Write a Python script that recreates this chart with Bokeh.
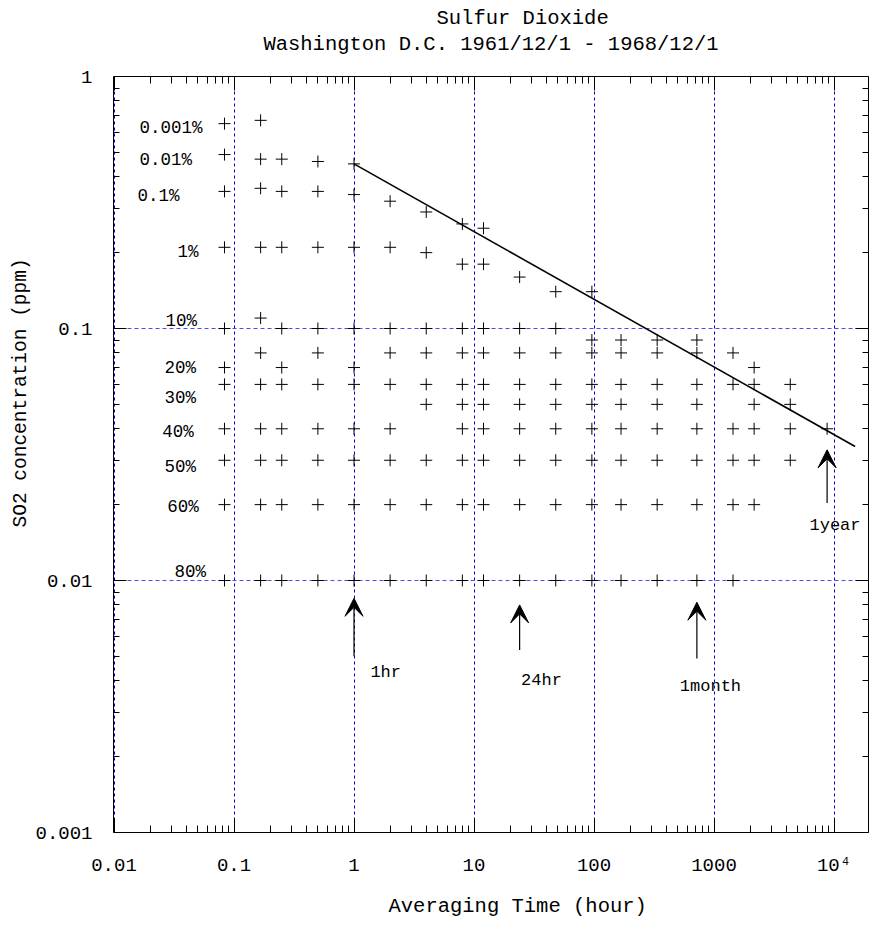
from bokeh.plotting import figure
from bokeh.models import LogAxis, FixedTicker, Title, Arrow, VeeHead, ColumnDataSource
from bokeh.core.properties import value
from bokeh.embed import file_html
from bokeh.resources import INLINE

# ---------------- data ----------------
avg_time_hr = [1/12, 1/6, 0.25, 0.5, 1, 2, 4, 8, 12, 24, 48, 96, 168, 336,
               720, 1440, 2160, 4320, 8760]

conc_5min = [0.65, 0.49, 0.35, 0.21, 0.10, 0.07, 0.06, 0.04, 0.03, 0.02, 0.01]
conc_10min = [0.67, 0.47, 0.36, 0.21, 0.11, 0.08, 0.06, 0.04, 0.03, 0.02, 0.01]
conc_15min = [0.47, 0.35, 0.21, 0.10, 0.07, 0.06, 0.04, 0.03, 0.02, 0.01]
conc_30min = [0.46, 0.35, 0.21, 0.10, 0.08, 0.06, 0.04, 0.03, 0.02, 0.01]
conc_1h = [0.45, 0.34, 0.21, 0.10, 0.07, 0.06, 0.04, 0.03, 0.02, 0.01]
conc_2h = [0.32, 0.21, 0.10, 0.08, 0.06, 0.04, 0.03, 0.02, 0.01]
conc_4h = [0.29, 0.20, 0.10, 0.08, 0.06, 0.05, 0.03, 0.02, 0.01]
conc_8h = [0.26, 0.18, 0.10, 0.08, 0.06, 0.05, 0.04, 0.03, 0.02, 0.01]
conc_12h = [0.25, 0.18, 0.10, 0.08, 0.06, 0.05, 0.04, 0.03, 0.02, 0.01]
conc_24h = [0.16, 0.10, 0.08, 0.06, 0.05, 0.04, 0.03, 0.02, 0.01]
conc_48h = [0.14, 0.10, 0.08, 0.06, 0.05, 0.04, 0.03, 0.02, 0.01]
conc_96h = [0.14, 0.09, 0.08, 0.06, 0.05, 0.04, 0.03, 0.02, 0.01]
conc_168h = [0.09, 0.08, 0.06, 0.05, 0.04, 0.03, 0.02, 0.01]
conc_336h = [0.09, 0.08, 0.06, 0.05, 0.04, 0.03, 0.02, 0.01]
conc_720h = [0.09, 0.08, 0.06, 0.05, 0.04, 0.03, 0.02, 0.01]
conc_1440h = [0.08, 0.06, 0.04, 0.03, 0.02, 0.01]
conc_2160h = [0.07, 0.06, 0.05, 0.04, 0.03, 0.02]
conc_4320h = [0.06, 0.05, 0.04, 0.03]
conc_8760h = [0.04]

conc_by_time = [conc_5min, conc_10min, conc_15min, conc_30min, conc_1h, conc_2h,
                conc_4h, conc_8h, conc_12h, conc_24h, conc_48h, conc_96h,
                conc_168h, conc_336h, conc_720h, conc_1440h, conc_2160h,
                conc_4320h, conc_8760h]

trend_x = [1, 15000]
trend_y = [0.45, 0.034]

pct_labels = ["0.001%", "0.01%", "0.1%", "1%", "10%", "20%", "30%", "40%",
              "50%", "60%", "80%"]
pct_label_x = [0.0163, 0.0163, 0.0157, 0.0338, 0.0269, 0.0263, 0.0263,
               0.0252, 0.0263, 0.0278, 0.0319]
pct_label_y = [0.627, 0.467, 0.336, 0.202, 0.1073, 0.0694, 0.0532, 0.0389,
               0.0283, 0.0195, 0.01076]

mark_time = [1, 24, 720, 8760]
mark_name = ["1hr", "24hr", "1month", "1year"]
arrow_tail = [0.0050, 0.0053, 0.0049, 0.0203]
arrow_tip = [0.0085, 0.0080, 0.0082, 0.0330]
mark_label_x = [1.37, 24.7, 519, 6250]
mark_label_y = [0.0043, 0.0040, 0.0038, 0.0166]

x_ticks = [0.01, 0.1, 1, 10, 100, 1000, 10000]
x_tick_labels = ["0.01", "0.1", "1", "10", "100", "1000", "10\u2074"]
y_ticks = [0.001, 0.01, 0.1, 1]
y_tick_labels = ["0.001", "0.01", "0.1", "1"]

title_text = "Sulfur Dioxide"
subtitle_text = "Washington D.C. 1961/12/1 - 1968/12/1"
x_label = "Averaging Time (hour)"
y_label = "SO2 concentration (ppm)"

# ---------------- figure ----------------
MONO = "Liberation Mono"
FRAME_W, FRAME_H = 755, 756
PX_PER_DEC_X, PX_PER_DEC_Y = 120.0, 252.0
x_lo = -2 - 0.5 / PX_PER_DEC_X
y_hi = 0.0

p = figure(frame_width=FRAME_W, frame_height=FRAME_H,
           x_axis_type="log", y_axis_type="log",
           x_range=(10 ** x_lo, 10 ** (x_lo + FRAME_W / PX_PER_DEC_X)),
           y_range=(10 ** (y_hi - FRAME_H / PX_PER_DEC_Y), 10 ** y_hi),
           output_backend="svg", toolbar_location=None,
           min_border_left=113, min_border_right=3, min_border_top=76,
           min_border_bottom=94)
p.outline_line_color = None
p.background_fill_color = "white"
p.border_fill_color = "white"

x_minor = [m * 10.0 ** e for e in range(-2, 5) for m in range(2, 10)]
y_minor = [m * 10.0 ** e for e in range(-3, 0) for m in range(2, 10)]
xt = FixedTicker(ticks=x_ticks, minor_ticks=x_minor)
yt = FixedTicker(ticks=y_ticks, minor_ticks=y_minor)


def style_axis(ax, ticker, major_in, minor_in):
    ax.ticker = ticker
    ax.major_tick_in = major_in
    ax.major_tick_out = 0
    ax.minor_tick_in = minor_in
    ax.minor_tick_out = 0
    ax.axis_line_color = "black"
    ax.major_tick_line_color = "black"
    ax.minor_tick_line_color = "black"


def hide_labels(ax):
    ax.major_label_text_font_size = "1px"
    ax.major_label_text_alpha = 0
    ax.major_label_standoff = 0


xa = p.xaxis[0]
style_axis(xa, xt, 14, 7)
xa.major_label_overrides = dict(zip(x_ticks, x_tick_labels))
xa.major_label_text_font = MONO
xa.major_label_text_font_size = "19px"
xa.major_label_text_color = "black"
xa.major_label_standoff = 22

ya = p.yaxis[0]
style_axis(ya, yt, 13, 6)
ya.major_label_overrides = dict(zip(y_ticks, y_tick_labels))
ya.major_label_text_font = MONO
ya.major_label_text_font_size = "19px"
ya.major_label_text_color = "black"
ya.major_label_standoff = 21

top_ax = LogAxis()
style_axis(top_ax, xt, 14, 7)
hide_labels(top_ax)
top_ax.axis_label = subtitle_text
top_ax.axis_label_text_font = MONO
top_ax.axis_label_text_font_size = "20.5px"
top_ax.axis_label_text_font_style = "normal"
top_ax.axis_label_text_color = "black"
top_ax.axis_label_standoff = 21
p.add_layout(top_ax, "above")

right_ax = LogAxis()
style_axis(right_ax, yt, 13, 6)
hide_labels(right_ax)
p.add_layout(right_ax, "right")

p.xgrid.ticker = xt
p.ygrid.ticker = yt
p.xgrid.grid_line_color = "#0000d0"
p.xgrid.grid_line_dash = "3 3"
p.xgrid.grid_line_width = 1
p.ygrid.grid_line_color = "#4a4af0"
p.ygrid.grid_line_dash = "4 3"
p.ygrid.grid_line_width = 1

# titles
p.add_layout(Title(text=title_text, align="left", offset=323,
                   text_font=MONO, text_font_size="20.5px",
                   text_font_style="normal", text_color="black", standoff=0), "above")
p.add_layout(Title(text=y_label, align="left", offset=305,
                   text_font=MONO, text_font_size="19.5px",
                   text_font_style="normal", text_color="black", standoff=2), "left")
p.add_layout(Title(text=x_label, align="left", offset=275,
                   text_font=MONO, text_font_size="20.5px",
                   text_font_style="normal", text_color="black", standoff=26), "below")

# ---------------- marks ----------------
pts_x = [t for t, cs in zip(avg_time_hr, conc_by_time) for _ in cs]
pts_y = [c for cs in conc_by_time for c in cs]
src = ColumnDataSource(dict(x=pts_x, y=pts_y))
p.scatter("x", "y", source=src, marker="cross", size=12,
          line_color="black", line_width=1)

p.line(trend_x, trend_y, line_color="black", line_width=1.6)

p.text(x=pct_label_x, y=pct_label_y, text=pct_labels,
       text_font=value(MONO), text_font_size=value("17.5px"),
       text_align="left", text_baseline="middle", text_color="black")

for t, tail, tip in zip(mark_time, arrow_tail, arrow_tip):
    p.add_layout(Arrow(x_start=t, y_start=tail, x_end=t, y_end=tip,
                       line_color="black", line_width=1.2,
                       end=VeeHead(size=18, fill_color="black",
                                   line_color="black", line_width=1)))

p.text(x=mark_label_x, y=mark_label_y, text=mark_name,
       text_font=value(MONO), text_font_size=value("17px"),
       text_align="left", text_baseline="middle", text_color="black")

open("out.html", "w").write(file_html(p, INLINE))
